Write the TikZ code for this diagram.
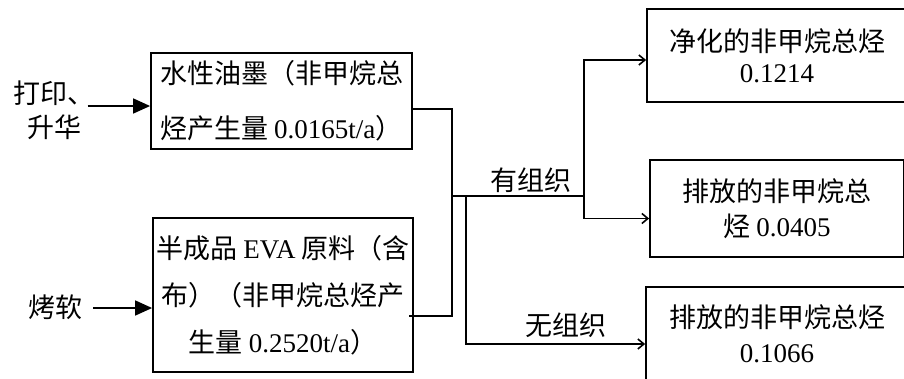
\documentclass[tikz,border=0pt]{standalone}
\usepackage{fontspec}
\setmainfont{Liberation Serif}
\newfontfamily\cjk{Noto Sans CJK SC}
\usetikzlibrary{positioning,arrows.meta}
\newcommand{\lat}[1]{{\rmfamily #1}}

\begin{document}
\begin{tikzpicture}[x=1pt,y=-1pt,
    box/.style={draw,line width=1.8pt,inner sep=2pt,align=center},
    lbl/.style={inner sep=0pt,align=center,font=\cjk\fontsize{27}{34}\selectfont},
    flow/.style={line width=1.6pt},
    bigarrow/.style={line width=1.6pt,-{Triangle[length=17pt,width=15pt]}},
    thinarrow/.style={line width=1.6pt,-{Straight Barb[length=6pt,width=10pt]}}]
  \useasboundingbox (0,0) rectangle (904,378);
  % sources
  \node[box,align=left,minimum width=261pt,minimum height=96pt,font=\cjk\fontsize{27}{55}\selectfont] (ink) at (281.5,101)
    {水性油墨（非甲烷总\\烃产生量 \lat{0.0165t/a}）};
  \node[box,minimum width=260pt,minimum height=154pt,font=\cjk\fontsize{27}{47}\selectfont] (eva) at (283,295)
    {半成品 \lat{EVA} 原料（含\\布）（非甲烷总烃产\\生量 \lat{0.2520t/a}）};
  \node[lbl] (printIn) at (54,110) {打印、\\升华};
  \node[lbl] (softIn) at (55,307) {烤软};
  \draw[bigarrow] ([xshift=-7pt,yshift=-5pt]ink.west -| printIn.east) -- ([yshift=-5pt]ink.west);
  \draw[bigarrow] ([xshift=11pt,yshift=-13pt]eva.west -| softIn.east) -- ([yshift=-13pt]eva.west);
  % results
  \node[box,minimum width=260pt,minimum height=93pt,font=\cjk\fontsize{27}{31}\selectfont] (clean) at (777,55.5)
    {净化的非甲烷总烃\\\lat{0.1214}};
  \node[box,minimum width=254pt,minimum height=97pt,font=\cjk\fontsize{27}{35}\selectfont] (emitA) at (777,208.5)
    {排放的非甲烷总\\烃 \lat{0.0405}};
  \node[box,minimum width=262pt,minimum height=94pt,font=\cjk\fontsize{27}{35}\selectfont] (fugitive) at (777,334)
    {排放的非甲烷总烃\\\lat{0.1066}};
  % collecting lines
  \coordinate (join) at (452,196);
  \coordinate (fork) at (466,196);
  \coordinate (split) at (584,196);
  \draw[flow] ([yshift=-8pt]ink.east) -| (join) |- ([xshift=-5pt,yshift=-21pt]eva.east);
  \draw[flow] (join) -- (split);
  \draw[thinarrow] (split) |- ([yshift=-4.5pt]clean.west);
  \draw[thinarrow] (split) |- ([yshift=-10pt]emitA.west);
  \draw[thinarrow] (fork) |- ([yshift=-10pt]fugitive.west);
  \node[lbl] (orgLbl) at (531,180) {有组织};
  \node[lbl] (fugLbl) at (566,325) {无组织};
\end{tikzpicture}
\end{document}
